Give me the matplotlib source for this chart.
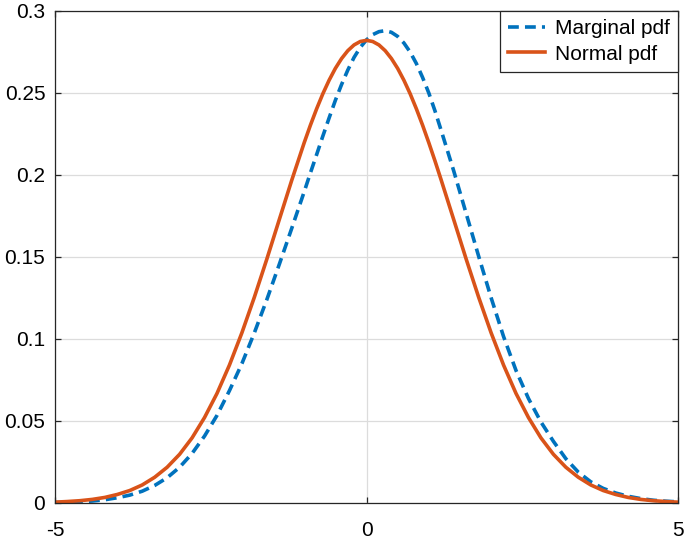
import matplotlib
matplotlib.use('Agg')
import matplotlib.pyplot as plt

# x positions (finer near the peaks)
x = [-5.0, -4.8, -4.6, -4.4, -4.2, -4.0, -3.8, -3.6, -3.4, -3.2, -3.0,
     -2.8, -2.6, -2.4, -2.2, -2.0, -1.8, -1.6, -1.4, -1.2,
     -1.0, -0.9, -0.8, -0.7, -0.6, -0.5, -0.4, -0.3, -0.2, -0.1,
     0.0, 0.1, 0.2, 0.3, 0.4, 0.5, 0.6, 0.7, 0.8, 0.9, 1.0, 1.1,
     1.2, 1.4, 1.6, 1.8, 2.0, 2.2, 2.4, 2.6, 2.8, 3.0,
     3.2, 3.4, 3.6, 3.8, 4.0, 4.2, 4.4, 4.6, 4.8, 5.0]

marginal_pdf = [0.0003, 0.0004, 0.0008, 0.0012, 0.0020, 0.0032, 0.0048, 0.0072, 0.0107, 0.0154, 0.0218,
                0.0302, 0.0408, 0.0534, 0.0685, 0.0850, 0.1038, 0.1240, 0.1455, 0.1675,
                0.1898, 0.2013, 0.2125, 0.2238, 0.2348, 0.2455, 0.2552, 0.2640, 0.2717, 0.2778,
                0.2824, 0.2856, 0.2874, 0.2880, 0.2870, 0.2845, 0.2805, 0.2750, 0.2680, 0.2595, 0.2500, 0.2390,
                0.2270, 0.2025, 0.1765, 0.1505, 0.1252, 0.1015, 0.0808, 0.0637, 0.0494, 0.0376,
                0.0270, 0.0188, 0.0129, 0.0089, 0.0061, 0.0041, 0.0027, 0.0017, 0.0011, 0.0007]

normal_pdf = [0.0005, 0.0009, 0.0014, 0.0022, 0.0034, 0.0052, 0.0076, 0.0110, 0.0157, 0.0218, 0.0297,
              0.0397, 0.0521, 0.0668, 0.0841, 0.1038, 0.1255, 0.1487, 0.1728, 0.1968,
              0.2197, 0.2304, 0.2404, 0.2496, 0.2578, 0.2650, 0.2710, 0.2758, 0.2793, 0.2814,
              0.2821, 0.2814, 0.2793, 0.2758, 0.2710, 0.2650, 0.2578, 0.2496, 0.2404, 0.2304, 0.2197, 0.2085,
              0.1968, 0.1728, 0.1487, 0.1255, 0.1038, 0.0841, 0.0668, 0.0521, 0.0397, 0.0297,
              0.0218, 0.0157, 0.0110, 0.0076, 0.0052, 0.0034, 0.0022, 0.0014, 0.0009, 0.0005]

series_labels = ['Marginal pdf', 'Normal pdf']
x_ticks = [-5, 0, 5]
y_ticks = [0, 0.05, 0.1, 0.15, 0.2, 0.25, 0.3]
y_tick_labels = ['0', '0.05', '0.1', '0.15', '0.2', '0.25', '0.3']

plt.rcParams['font.family'] = ['Liberation Sans']
fs = 15

fig = plt.figure(figsize=(6.85, 5.44), dpi=100)
ax = fig.add_axes([55 / 685, 41 / 544, 623 / 685, 492 / 544])

ax.plot(x, marginal_pdf, color='#0072BD', lw=2.6, dashes=(3.0, 1.7), label=series_labels[0])
ax.plot(x, normal_pdf, color='#D95319', lw=2.6, label=series_labels[1])

ax.set_xlim(-5, 5)
ax.set_ylim(0, 0.3)
ax.set_xticks(x_ticks)
ax.set_xticklabels([str(t) for t in x_ticks])
ax.set_yticks(y_ticks)
ax.set_yticklabels(y_tick_labels)

ax.grid(True, color='#dcdcdc', lw=0.9)
ax.set_axisbelow(True)
for s in ax.spines.values():
    s.set_color('#262626')
    s.set_linewidth(0.9)
ax.tick_params(direction='in', length=4, width=0.9, color='#262626',
               top=True, right=True, labelsize=fs, labelcolor='black')
ax.tick_params(axis='x', pad=13)
ax.tick_params(axis='y', pad=7)

leg = ax.legend(loc='upper right', borderaxespad=0, fancybox=False, framealpha=1,
                edgecolor='#262626', fontsize=fs, handlelength=1.8, handletextpad=0.45,
                labelspacing=0.3, borderpad=0.4)
leg.get_frame().set_linewidth(0.9)

fig.savefig('out.png', dpi=100)
